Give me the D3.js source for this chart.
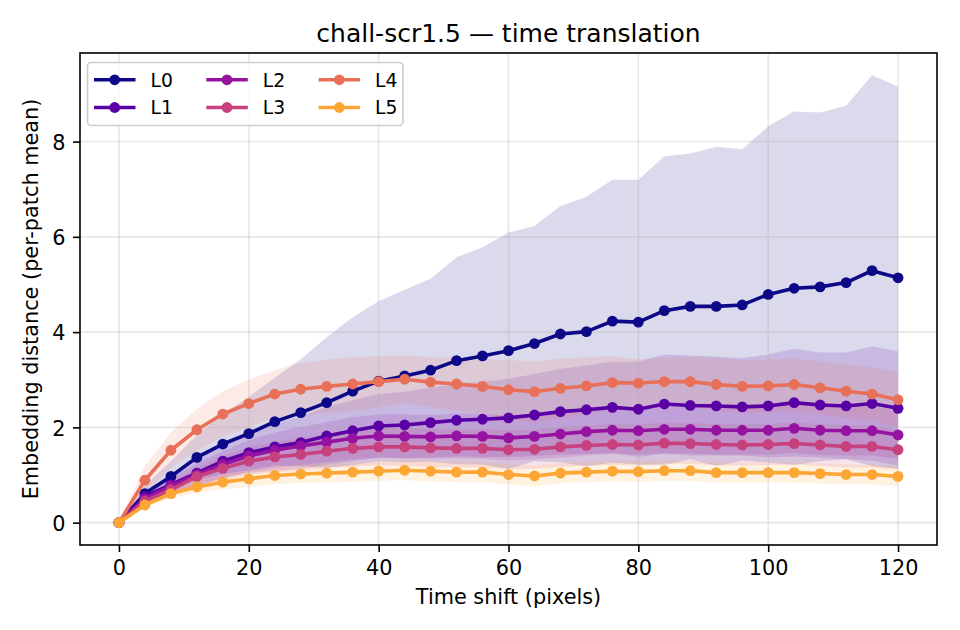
<!DOCTYPE html>
<html>
<head>
<meta charset="utf-8">
<script src="https://cdn.jsdelivr.net/npm/d3@7"></script>
<style>
    body { margin: 0; background: #fff; }
    svg { display: block; }
    text { font-family: "DejaVu Sans", sans-serif; fill: #000; }
</style>
</head>
<body>
<div id="chart"></div>
<script>
// values (mean and std per layer)
const shifts = [0, 4, 8, 12, 16, 20, 24, 28, 32, 36, 40, 44, 48, 52, 56, 60,
    64, 68, 72, 76, 80, 84, 88, 92, 96, 100, 104, 108, 112, 116, 120];

const layerNames = ["L0", "L1", "L2", "L3", "L4", "L5"];

const meanL0 = [0, 0.61, 0.97, 1.37, 1.65, 1.87, 2.12, 2.31, 2.52, 2.76, 2.97, 3.08, 3.20, 3.40, 3.50, 3.61,
    3.76, 3.96, 4.01, 4.23, 4.21, 4.45, 4.54, 4.54, 4.57, 4.79, 4.92, 4.95, 5.04, 5.29, 5.14];
const meanL1 = [0, 0.55, 0.80, 1.04, 1.29, 1.47, 1.59, 1.68, 1.82, 1.93, 2.03, 2.05, 2.10, 2.15, 2.17, 2.20,
    2.26, 2.33, 2.37, 2.42, 2.38, 2.49, 2.46, 2.45, 2.43, 2.45, 2.52, 2.47, 2.45, 2.50, 2.40];
const meanL2 = [0, 0.50, 0.77, 1.01, 1.22, 1.40, 1.52, 1.61, 1.69, 1.77, 1.82, 1.81, 1.80, 1.82, 1.81, 1.78,
    1.81, 1.86, 1.91, 1.94, 1.93, 1.96, 1.96, 1.94, 1.94, 1.94, 1.98, 1.94, 1.93, 1.93, 1.84];
const meanL3 = [0, 0.45, 0.69, 0.97, 1.14, 1.29, 1.38, 1.43, 1.50, 1.56, 1.59, 1.59, 1.57, 1.56, 1.56, 1.53,
    1.54, 1.59, 1.62, 1.64, 1.63, 1.67, 1.66, 1.64, 1.63, 1.64, 1.66, 1.63, 1.60, 1.60, 1.53];
const meanL4 = [0, 0.89, 1.52, 1.95, 2.28, 2.50, 2.70, 2.80, 2.86, 2.91, 2.96, 3.01, 2.95, 2.91, 2.86, 2.79,
    2.75, 2.82, 2.87, 2.94, 2.93, 2.96, 2.96, 2.90, 2.86, 2.87, 2.90, 2.83, 2.76, 2.70, 2.58];
const meanL5 = [0, 0.37, 0.61, 0.75, 0.85, 0.92, 0.99, 1.02, 1.04, 1.06, 1.08, 1.10, 1.08, 1.06, 1.06, 1.01,
    0.98, 1.04, 1.06, 1.08, 1.07, 1.09, 1.09, 1.05, 1.05, 1.05, 1.05, 1.03, 1.01, 1.01, 0.97];

const stdL0 = [0, 0.17, 0.32, 0.47, 0.63, 0.77, 0.92, 1.12, 1.37, 1.55, 1.68, 1.81, 1.92, 2.17, 2.28, 2.48,
    2.47, 2.69, 2.83, 2.97, 2.99, 3.24, 3.21, 3.35, 3.27, 3.53, 3.71, 3.66, 3.71, 4.10, 4.01];
const stdL1 = [0, 0.12, 0.20, 0.28, 0.36, 0.43, 0.50, 0.55, 0.60, 0.64, 0.67, 0.70, 0.73, 0.76, 0.79, 0.82,
    0.86, 0.90, 0.93, 0.96, 1.00, 1.04, 1.05, 1.04, 1.02, 1.08, 1.13, 1.10, 1.12, 1.20, 1.20];
const stdL2 = [0, 0.10, 0.17, 0.23, 0.28, 0.33, 0.37, 0.40, 0.42, 0.44, 0.45, 0.46, 0.46, 0.47, 0.47, 0.47,
    0.48, 0.49, 0.50, 0.50, 0.50, 0.51, 0.51, 0.51, 0.51, 0.51, 0.52, 0.52, 0.52, 0.52, 0.50];
const stdL3 = [0, 0.09, 0.15, 0.20, 0.25, 0.29, 0.32, 0.34, 0.36, 0.38, 0.39, 0.40, 0.40, 0.40, 0.40, 0.41,
    0.41, 0.42, 0.42, 0.43, 0.43, 0.43, 0.43, 0.43, 0.43, 0.43, 0.44, 0.44, 0.44, 0.44, 0.42];
const stdL4 = [0, 0.30, 0.37, 0.43, 0.48, 0.50, 0.50, 0.55, 0.56, 0.56, 0.54, 0.50, 0.52, 0.55, 0.58, 0.62,
    0.64, 0.62, 0.60, 0.56, 0.50, 0.50, 0.52, 0.55, 0.55, 0.55, 0.55, 0.56, 0.56, 0.56, 0.58];
const stdL5 = [0, 0.06, 0.10, 0.13, 0.15, 0.17, 0.18, 0.19, 0.20, 0.20, 0.20, 0.21, 0.21, 0.21, 0.21, 0.21,
    0.22, 0.21, 0.21, 0.21, 0.21, 0.21, 0.21, 0.21, 0.21, 0.21, 0.21, 0.21, 0.21, 0.21, 0.21];

const xTicks = [0, 20, 40, 60, 80, 100, 120];
const yTicks = [0, 2, 4, 6, 8];

const chartTitle = "chall-scr1.5 \u2014 time translation";
const xLabel = "Time shift (pixels)";
const yLabel = "Embedding distance (per-patch mean)";

class ShiftChart {
    constructor() {
        this.config = {
            width: 960,
            height: 630,
            left: 80,
            right: 937,
            top: 53,
            bottom: 545,
            fontSize: 20.8,
            lineWidth: 3.6,
            markerR: 5.4,
        }

        this.svg = d3.select('#chart')
            .append('svg')
            .attr('width', this.config.width)
            .attr('height', this.config.height)
        ;
    }

    display(layers) {
        const c = this.config;

        // matplotlib style autoscale: 5% margin around the data incl. the bands
        const xExt = d3.extent(shifts);
        const xPad = (xExt[1] - xExt[0]) * 0.05;
        const lo = d3.min(layers, l => d3.min(l.mean, (m, i) => m - l.std[i]));
        const hi = d3.max(layers, l => d3.max(l.mean, (m, i) => m + l.std[i]));
        const yPad = (hi - lo) * 0.05;

        const x = d3.scaleLinear()
            .domain([xExt[0] - xPad, xExt[1] + xPad])
            .range([c.left, c.right])
        ;
        const y = d3.scaleLinear()
            .domain([lo - yPad, hi + yPad])
            .range([c.bottom, c.top])
        ;
        const color = d3.scaleSequential(d3.interpolatePlasma).domain([0, 1]);

        // bands first (they sit under grid and lines)
        const area = d3.area()
            .x((d, i) => x(shifts[i]))
            .y0(d => y(d[0]))
            .y1(d => y(d[1]))
        ;
        this.svg.append('g')
            .attr('id', 'bands')
            .selectAll('path')
            .data(layers)
            .join('path')
            .attr('d', l => area(l.mean.map((m, i) => [m - l.std[i], m + l.std[i]])))
            .attr('fill', (l, i) => color(i * 0.16))
            .attr('fill-opacity', 0.15)
        ;

        // grid
        const grid = this.svg.append('g')
            .attr('id', 'grid')
            .attr('stroke', '#b0b0b0')
            .attr('stroke-opacity', 0.3)
            .attr('stroke-width', 1.6)
        ;
        grid.selectAll('line.gx')
            .data(xTicks)
            .join('line')
            .attr('class', 'gx')
            .attr('x1', d => x(d)).attr('x2', d => x(d))
            .attr('y1', c.top).attr('y2', c.bottom)
        ;
        grid.selectAll('line.gy')
            .data(yTicks)
            .join('line')
            .attr('class', 'gy')
            .attr('x1', c.left).attr('x2', c.right)
            .attr('y1', d => y(d)).attr('y2', d => y(d))
        ;

        // lines + markers
        const line = d3.line()
            .x((d, i) => x(shifts[i]))
            .y(d => y(d))
        ;
        const series = this.svg.append('g')
            .attr('id', 'series')
            .selectAll('g')
            .data(layers)
            .join('g')
        ;
        series.append('path')
            .attr('d', l => line(l.mean))
            .attr('fill', 'none')
            .attr('stroke', (l, i) => color(i * 0.16))
            .attr('stroke-width', c.lineWidth)
            .attr('stroke-linejoin', 'round')
        ;
        series.each(function(l, k) {
            d3.select(this)
                .selectAll('circle')
                .data(l.mean)
                .join('circle')
                .attr('cx', (d, i) => x(shifts[i]))
                .attr('cy', d => y(d))
                .attr('r', c.markerR)
                .attr('fill', color(k * 0.16))
            ;
        });

        // axes frame
        this.svg.append('rect')
            .attr('x', c.left)
            .attr('y', c.top)
            .attr('width', c.right - c.left)
            .attr('height', c.bottom - c.top)
            .attr('fill', 'none')
            .attr('stroke', '#000')
            .attr('stroke-width', 1.6)
        ;

        const xAxis = this.svg.append('g')
            .attr('transform', `translate(0,${c.bottom})`)
            .call(d3.axisBottom(x).tickValues(xTicks).tickSize(7).tickPadding(8))
        ;
        const yAxis = this.svg.append('g')
            .attr('transform', `translate(${c.left},0)`)
            .call(d3.axisLeft(y).tickValues(yTicks).tickSize(7).tickPadding(7.5))
        ;
        for (const ax of [xAxis, yAxis]) {
            ax.select('.domain').remove();
            ax.selectAll('.tick line').attr('stroke', '#000').attr('stroke-width', 1.6);
            ax.selectAll('.tick text')
                .attr('font-family', '"DejaVu Sans", sans-serif')
                .attr('font-size', c.fontSize)
                .attr('fill', '#000')
            ;
        }
        xAxis.selectAll('.tick text').attr('dy', '0.72em');
        yAxis.selectAll('.tick text').attr('dy', '0.37em');

        // labels
        this.svg.append('text')
            .attr('x', (c.left + c.right) / 2)
            .attr('y', 42)
            .attr('text-anchor', 'middle')
            .attr('font-size', 25)
            .text(chartTitle)
        ;
        this.svg.append('text')
            .attr('x', (c.left + c.right) / 2)
            .attr('y', 604)
            .attr('text-anchor', 'middle')
            .attr('font-size', c.fontSize)
            .text(xLabel)
        ;
        this.svg.append('text')
            .attr('transform', `translate(37.5,${(c.top + c.bottom) / 2}) rotate(-90)`)
            .attr('text-anchor', 'middle')
            .attr('font-size', c.fontSize)
            .text(yLabel)
        ;

        this.drawLegend(layers, color);
    }

    drawLegend(layers, color) {
        const c = this.config;
        const legend = this.svg.append('g')
            .attr('id', 'legend')
        ;
        legend.append('rect')
            .attr('x', 87.5)
            .attr('y', 62.5)
            .attr('width', 315.5)
            .attr('height', 63)
            .attr('rx', 4)
            .attr('fill', '#fff')
            .attr('fill-opacity', 0.8)
            .attr('stroke', '#cccccc')
            .attr('stroke-width', 1.6)
        ;
        // matplotlib ncol=3 fills column by column
        const item = legend.selectAll('g.item')
            .data(layers)
            .join('g')
            .attr('class', 'item')
            .attr('transform', (l, i) => `translate(${94 + Math.floor(i / 2) * 112.3},${i % 2 ? 107.5 : 79.8})`)
        ;
        item.append('line')
            .attr('x1', 0).attr('x2', 41.5)
            .attr('stroke', (l, i) => color(i * 0.16))
            .attr('stroke-width', c.lineWidth)
        ;
        item.append('circle')
            .attr('cx', 20.7)
            .attr('r', c.markerR)
            .attr('fill', (l, i) => color(i * 0.16))
        ;
        item.append('text')
            .attr('x', 56.5)
            .attr('dy', '0.36em')
            .attr('font-size', 18.75)
            .text(l => l.name)
        ;
    }
}

const meansByLayer = [meanL0, meanL1, meanL2, meanL3, meanL4, meanL5];
const stdsByLayer = [stdL0, stdL1, stdL2, stdL3, stdL4, stdL5];
const layers = layerNames.map((name, i) => ({ name: name, mean: meansByLayer[i], std: stdsByLayer[i] }));

let chart = new ShiftChart();
chart.display(layers);
</script>
</body>
</html>
